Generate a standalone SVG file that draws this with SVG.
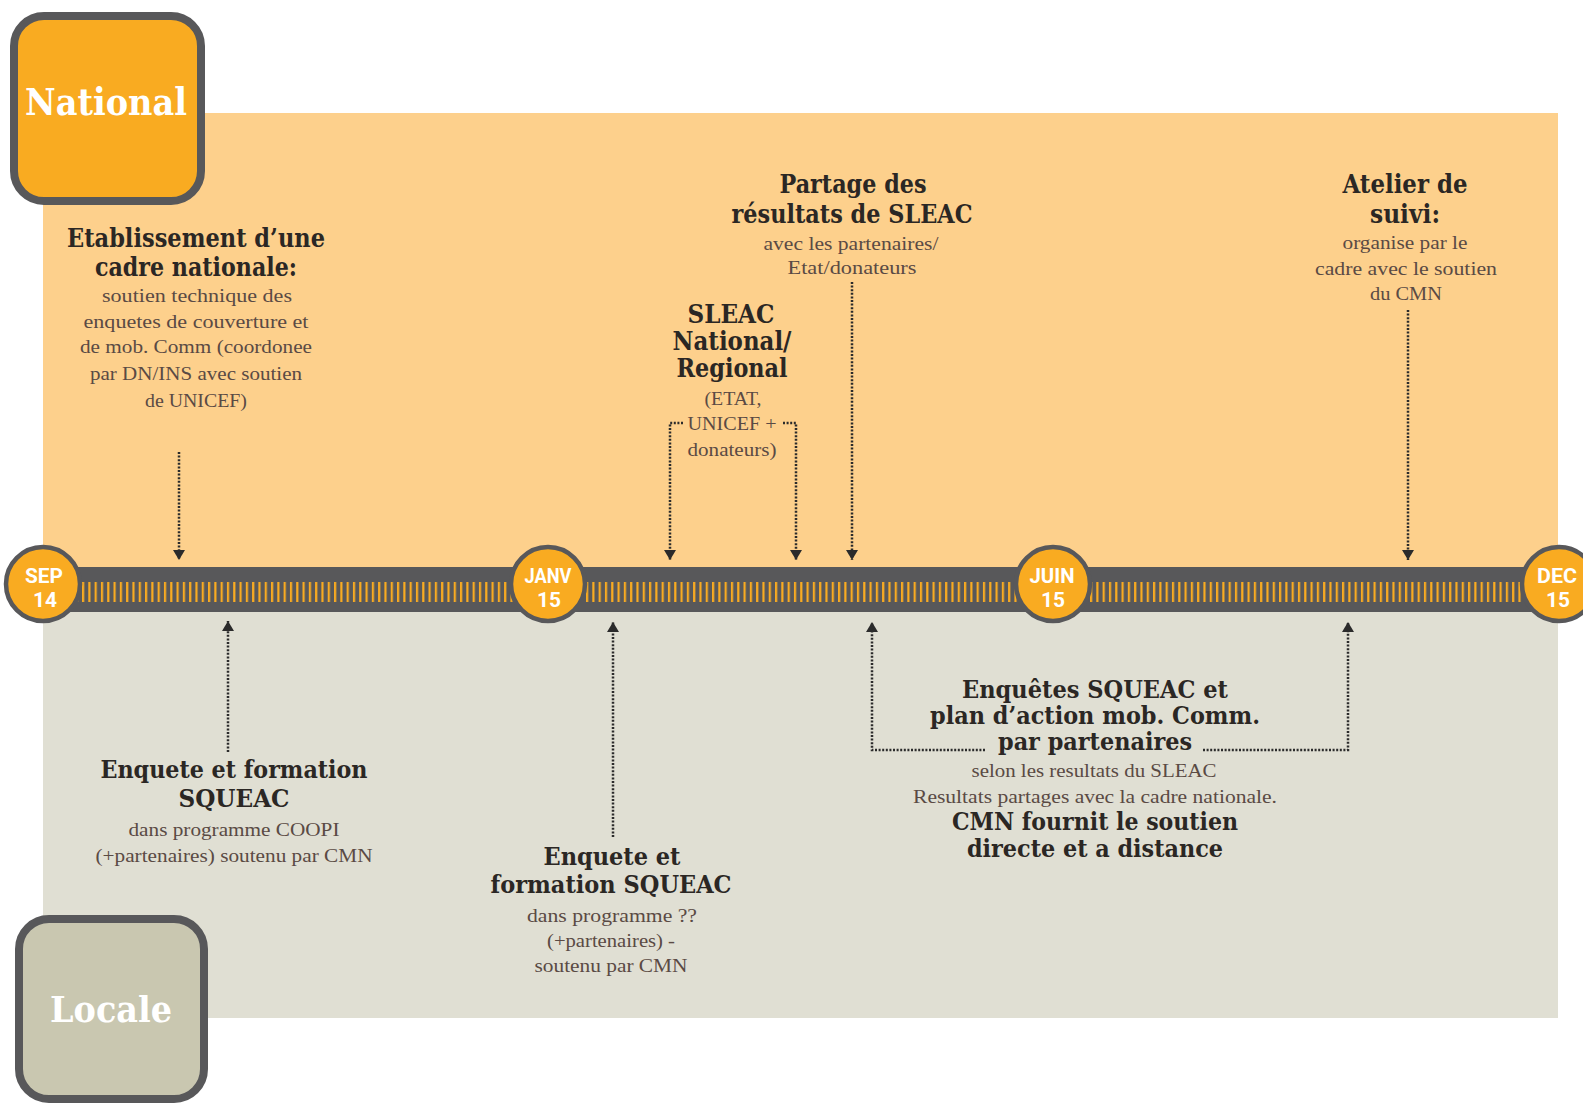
<svg xmlns="http://www.w3.org/2000/svg" width="1583" height="1104" viewBox="0 0 1583 1104">
<style>
.h{font-family:"DejaVu Serif","Liberation Serif",serif;font-weight:bold;fill:#2b2724;text-anchor:middle;}
.b{font-family:"Liberation Serif","DejaVu Serif",serif;font-size:19px;fill:#5a4a44;text-anchor:middle;}
.d{font-family:Roboto,"Liberation Sans",sans-serif;font-weight:bold;font-size:20px;fill:#ffffff;text-anchor:middle;}
.big{font-family:"DejaVu Serif","Liberation Serif",serif;font-weight:bold;fill:#ffffff;text-anchor:middle;}
.c{fill:none;stroke:#2b2b2b;stroke-width:2.5;stroke-dasharray:2 1.6;marker-end:url(#arr);}
.dot{fill:#f9ab21;stroke:#58585a;stroke-width:4.5;}
</style>
<defs>
<marker id="arr" viewBox="0 0 10 12" refX="10" refY="6" markerWidth="10" markerHeight="12" markerUnits="userSpaceOnUse" orient="auto">
<path d="M0,0 L10,6 L0,12 z" fill="#2b2b2b" stroke="none"/>
</marker>
<pattern id="ticks" x="82" y="0" width="6.3" height="1104" patternUnits="userSpaceOnUse">
<rect x="0" y="582" width="2.2" height="20" fill="#f9ab21"/>
</pattern>
</defs>

<g id="panels">
<rect x="43" y="113" width="1515" height="454" fill="#fdd08c"/>
<rect x="43" y="612" width="1515" height="406" fill="#e0dfd3"/>
</g>

<g id="timeline">
<rect x="43" y="567" width="1515" height="45" fill="#58585a"/>
<rect x="43" y="582" width="1515" height="20" fill="url(#ticks)"/>
</g>

<g id="sep14">
<circle class="dot" cx="43" cy="584" r="37"/>
<text class="d" x="44" y="583" textLength="38" lengthAdjust="spacingAndGlyphs">SEP</text>
<text class="d" x="45" y="607" textLength="24" lengthAdjust="spacingAndGlyphs">14</text>
</g>
<g id="janv15">
<circle class="dot" cx="548" cy="584" r="37"/>
<text class="d" x="548" y="583" textLength="47" lengthAdjust="spacingAndGlyphs">JANV</text>
<text class="d" x="549" y="607" textLength="24" lengthAdjust="spacingAndGlyphs">15</text>
</g>
<g id="juin15">
<circle class="dot" cx="1053" cy="584" r="37"/>
<text class="d" x="1052" y="583" textLength="45" lengthAdjust="spacingAndGlyphs">JUIN</text>
<text class="d" x="1053" y="607" textLength="24" lengthAdjust="spacingAndGlyphs">15</text>
</g>
<g id="dec15">
<circle class="dot" cx="1559" cy="584" r="37"/>
<text class="d" x="1557" y="583" textLength="40" lengthAdjust="spacingAndGlyphs">DEC</text>
<text class="d" x="1558" y="607" textLength="24" lengthAdjust="spacingAndGlyphs">15</text>
</g>

<g id="national">
<rect x="14" y="16" width="187" height="185" rx="30" fill="#f9ab21" stroke="#58585a" stroke-width="8"/>
<text class="big" x="106" y="115" font-size="38" textLength="162" lengthAdjust="spacingAndGlyphs">National</text>
</g>

<g id="locale">
<rect x="19" y="919" width="185" height="180" rx="30" fill="#c9c7b0" stroke="#58585a" stroke-width="8"/>
<text class="big" x="111" y="1022" font-size="35" textLength="122" lengthAdjust="spacingAndGlyphs">Locale</text>
</g>

<g id="etablissement">
<text class="h" font-size="26" x="196" y="247" textLength="258" lengthAdjust="spacingAndGlyphs">Etablissement d’une</text>
<text class="h" font-size="26" x="196" y="276" textLength="202" lengthAdjust="spacingAndGlyphs">cadre nationale:</text>
<text class="b" x="197" y="302" textLength="190" lengthAdjust="spacingAndGlyphs">soutien technique des</text>
<text class="b" x="196" y="328" textLength="225" lengthAdjust="spacingAndGlyphs">enquetes de couverture et</text>
<text class="b" x="196" y="353" textLength="232" lengthAdjust="spacingAndGlyphs">de mob. Comm (coordonee</text>
<text class="b" x="196" y="380" textLength="212" lengthAdjust="spacingAndGlyphs">par DN/INS avec soutien</text>
<text class="b" x="196" y="407" textLength="102" lengthAdjust="spacingAndGlyphs">de UNICEF)</text>
</g>

<g id="partage">
<text class="h" font-size="26" x="853" y="193" textLength="147" lengthAdjust="spacingAndGlyphs">Partage des</text>
<text class="h" font-size="26" x="852" y="223" textLength="241" lengthAdjust="spacingAndGlyphs">résultats de SLEAC</text>
<text class="b" x="851" y="250" textLength="175" lengthAdjust="spacingAndGlyphs">avec les partenaires/</text>
<text class="b" x="852" y="274" textLength="129" lengthAdjust="spacingAndGlyphs">Etat/donateurs</text>
</g>

<g id="sleac">
<text class="h" font-size="26" x="731" y="323" textLength="87" lengthAdjust="spacingAndGlyphs">SLEAC</text>
<text class="h" font-size="26" x="732" y="350" textLength="119" lengthAdjust="spacingAndGlyphs">National/</text>
<text class="h" font-size="26" x="732" y="377" textLength="111" lengthAdjust="spacingAndGlyphs">Regional</text>
<text class="b" x="733" y="405" textLength="57" lengthAdjust="spacingAndGlyphs">(ETAT,</text>
<text class="b" x="732" y="430" textLength="89" lengthAdjust="spacingAndGlyphs">UNICEF +</text>
<text class="b" x="732" y="456" textLength="89" lengthAdjust="spacingAndGlyphs">donateurs)</text>
</g>

<g id="atelier">
<text class="h" font-size="26" x="1405" y="193" textLength="125" lengthAdjust="spacingAndGlyphs">Atelier de</text>
<text class="h" font-size="26" x="1405" y="223" textLength="70" lengthAdjust="spacingAndGlyphs">suivi:</text>
<text class="b" x="1405" y="249" textLength="125" lengthAdjust="spacingAndGlyphs">organise par le</text>
<text class="b" x="1406" y="275" textLength="182" lengthAdjust="spacingAndGlyphs">cadre avec le soutien</text>
<text class="b" x="1406" y="300" textLength="72" lengthAdjust="spacingAndGlyphs">du CMN</text>
</g>

<g id="enquete-coopi">
<text class="h" font-size="24" x="234" y="778" textLength="267" lengthAdjust="spacingAndGlyphs">Enquete et formation</text>
<text class="h" font-size="24" x="234" y="807" textLength="111" lengthAdjust="spacingAndGlyphs">SQUEAC</text>
<text class="b" x="234" y="836" textLength="211" lengthAdjust="spacingAndGlyphs">dans programme COOPI</text>
<text class="b" x="234" y="862" textLength="277" lengthAdjust="spacingAndGlyphs">(+partenaires) soutenu par CMN</text>
</g>

<g id="enquete-janv">
<text class="h" font-size="24" x="612" y="865" textLength="137" lengthAdjust="spacingAndGlyphs">Enquete et</text>
<text class="h" font-size="24" x="611" y="893" textLength="241" lengthAdjust="spacingAndGlyphs">formation SQUEAC</text>
<text class="b" x="612" y="922" textLength="170" lengthAdjust="spacingAndGlyphs">dans programme ??</text>
<text class="b" x="611" y="947" textLength="128" lengthAdjust="spacingAndGlyphs">(+partenaires) -</text>
<text class="b" x="611" y="972" textLength="153" lengthAdjust="spacingAndGlyphs">soutenu par CMN</text>
</g>

<g id="enquetes-partenaires">
<text class="h" font-size="24" x="1095" y="698" textLength="266" lengthAdjust="spacingAndGlyphs">Enquêtes SQUEAC et</text>
<text class="h" font-size="24" x="1095" y="724" textLength="330" lengthAdjust="spacingAndGlyphs">plan d’action mob. Comm.</text>
<text class="h" font-size="24" x="1095" y="750" textLength="194" lengthAdjust="spacingAndGlyphs">par partenaires</text>
<text class="b" x="1094" y="777" textLength="245" lengthAdjust="spacingAndGlyphs">selon les resultats du SLEAC</text>
<text class="b" x="1095" y="803" textLength="364" lengthAdjust="spacingAndGlyphs">Resultats partages avec la cadre nationale.</text>
<text class="h" font-size="24" x="1095" y="830" textLength="286" lengthAdjust="spacingAndGlyphs">CMN fournit le soutien</text>
<text class="h" font-size="24" x="1095" y="857" textLength="256" lengthAdjust="spacingAndGlyphs">directe et a distance</text>
</g>

<g id="connectors">
<path class="c" d="M179 452 V560"/>
<path class="c" d="M683 423 H670 V560"/>
<path class="c" d="M783 423 H796 V560"/>
<path class="c" d="M852 282 V560"/>
<path class="c" d="M1408 310 V560"/>
<path class="c" d="M228 752 V621"/>
<path class="c" d="M613 837 V622"/>
<path class="c" d="M985 750 H872 V622"/>
<path class="c" d="M1203 750 H1348 V622"/>
</g>
</svg>
